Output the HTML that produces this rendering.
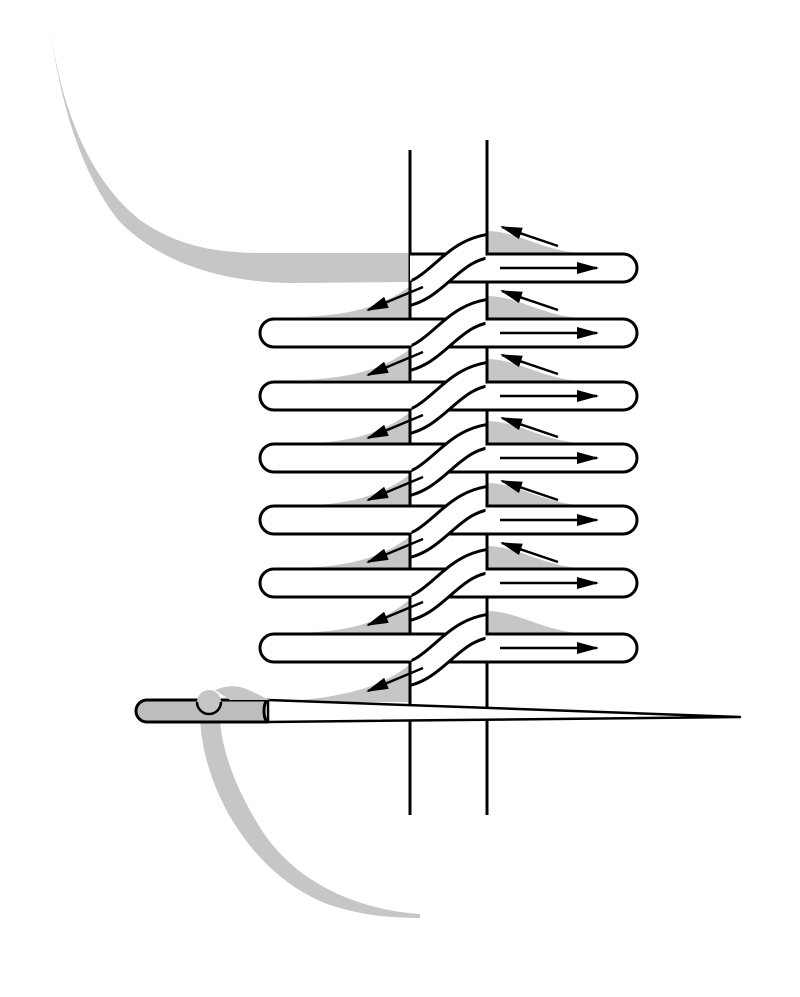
<!DOCTYPE html>
<html><head><style>html,body{margin:0;padding:0;background:#fff;}svg{display:block}</style></head>
<body>
<svg width="800" height="997" viewBox="0 0 800 997" xmlns="http://www.w3.org/2000/svg">
<defs>
<clipPath id="mid"><rect x="411.5" y="0" width="74" height="997"/></clipPath>
<marker id="ah" viewBox="0 0 22 12" refX="20" refY="6" markerWidth="22" markerHeight="12" markerUnits="userSpaceOnUse" orient="auto"><path d="M0 0 L22 6 L0 12 Z" fill="#000"/></marker>
</defs>
<g fill="#c6c6c6">
<path d="M49 18 C60 110 90 180 140 220 C180 248 220 253 265 253 L410 253 L410 282 L290 283 C220 282 160 262 120 222 C85 180 60 110 49 18 Z"/>
<path d="M290 317 C350 317 385 305 410 286 L410 317 Z"/>
<path d="M290 380 C350 380 385 368 410 349 L410 380 Z"/>
<path d="M290 444 C350 444 385 432 410 412 L410 444 Z"/>
<path d="M290 506 C350 506 385 494 410 474 L410 506 Z"/>
<path d="M290 568 C350 568 385 556 410 536 L410 568 Z"/>
<path d="M290 633 C350 633 385 621 410 599 L410 633 Z"/>
<path d="M268 702 C330 700 380 690 410 664 L410 702 Z"/>
<path d="M487 231 C520 231 545 254 595 254 L487 254 Z"/>
<path d="M487 296 C520 296 545 319 595 319 L487 319 Z"/>
<path d="M487 359 C520 359 545 382 595 382 L487 382 Z"/>
<path d="M487 421 C520 421 545 444 595 444 L487 444 Z"/>
<path d="M487 483 C520 483 545 506 595 506 L487 506 Z"/>
<path d="M487 546 C520 546 545 569 595 569 L487 569 Z"/>
<path d="M487 611 C520 611 545 634 595 634 L487 634 Z"/>
<path d="M200 720 C205 800 260 880 330 905 C360 915 390 918 420 918 L420 914 C360 910 300 885 265 835 C235 790 222 750 220 720 Z"/>
</g>
<g stroke="#000" stroke-width="3">
<line x1="410" y1="150" x2="410" y2="815"/>
<line x1="487" y1="140" x2="487" y2="815"/>
</g>
<g fill="#fff" stroke="#000" stroke-width="3">
<path d="M410 254 H623 A14 14 0 0 1 623 282 H410"/>
<rect x="260" y="319" width="377" height="28" rx="14"/>
<rect x="260" y="382" width="377" height="28" rx="14"/>
<rect x="260" y="444" width="377" height="28" rx="14"/>
<rect x="260" y="506" width="377" height="28" rx="14"/>
<rect x="260" y="569" width="377" height="28" rx="14"/>
<rect x="260" y="634" width="377" height="28" rx="14"/>
</g>
<g clip-path="url(#mid)" fill="none">
<g stroke="#000" stroke-width="26">
<path d="M398 296 C440 292 450 245 500 245"/>
<path d="M398 361 C440 357 450 310 500 310"/>
<path d="M398 424 C440 420 450 373 500 373"/>
<path d="M398 486 C440 482 450 435 500 435"/>
<path d="M398 548 C440 544 450 497 500 497"/>
<path d="M398 611 C440 607 450 560 500 560"/>
<path d="M398 676 C440 672 450 625 500 625"/>
</g>
<g stroke="#fff" stroke-width="20">
<path d="M398 296 C440 292 450 245 500 245"/>
<path d="M398 361 C440 357 450 310 500 310"/>
<path d="M398 424 C440 420 450 373 500 373"/>
<path d="M398 486 C440 482 450 435 500 435"/>
<path d="M398 548 C440 544 450 497 500 497"/>
<path d="M398 611 C440 607 450 560 500 560"/>
<path d="M398 676 C440 672 450 625 500 625"/>
</g>
</g>
<g fill="#fff">
<rect x="486" y="256" width="20" height="24"/>
<rect x="486" y="321" width="20" height="24"/>
<rect x="486" y="384" width="20" height="24"/>
<rect x="486" y="446" width="20" height="24"/>
<rect x="486" y="508" width="20" height="24"/>
<rect x="486" y="571" width="20" height="24"/>
<rect x="486" y="636" width="20" height="24"/>
</g>
<g stroke="#000" stroke-width="2.5" marker-end="url(#ah)">
<line x1="500" y1="268" x2="597" y2="268"/>
<line x1="500" y1="333" x2="597" y2="333"/>
<line x1="500" y1="396" x2="597" y2="396"/>
<line x1="500" y1="458" x2="597" y2="458"/>
<line x1="500" y1="520" x2="597" y2="520"/>
<line x1="500" y1="583" x2="597" y2="583"/>
<line x1="500" y1="648" x2="597" y2="648"/>
<line x1="558" y1="246" x2="502" y2="227"/>
<line x1="558" y1="310" x2="502" y2="291"/>
<line x1="558" y1="374" x2="502" y2="355"/>
<line x1="558" y1="437" x2="502" y2="418"/>
<line x1="558" y1="500" x2="502" y2="481"/>
<line x1="558" y1="562" x2="502" y2="543"/>
<line x1="423" y1="287" x2="368" y2="310"/>
<line x1="423" y1="352" x2="368" y2="375"/>
<line x1="423" y1="415" x2="368" y2="438"/>
<line x1="423" y1="477" x2="368" y2="500"/>
<line x1="423" y1="539" x2="368" y2="562"/>
<line x1="423" y1="602" x2="368" y2="625"/>
<line x1="423" y1="668" x2="368" y2="691"/>
</g>
<path d="M268 700 L740 717 L268 722 Z" fill="#fff" stroke="#000" stroke-width="2.5" stroke-linejoin="round"/>
<path d="M268 700 H147 A11 11 0 0 0 147 722 H268 A4 11 0 0 1 268 700 Z" fill="#bdbdbd" stroke="#000" stroke-width="3"/>
<path d="M197 702 A12 12 0 0 0 221 702" fill="#c6c6c6" stroke="#000" stroke-width="2.5"/>
<path d="M197 702 A12 12 0 0 1 221 702 Z" fill="#c6c6c6"/>
<path d="M215 690 C240 680 250 692 270 700 L230 700 Z" fill="#c6c6c6"/>
</svg>
</body></html>
